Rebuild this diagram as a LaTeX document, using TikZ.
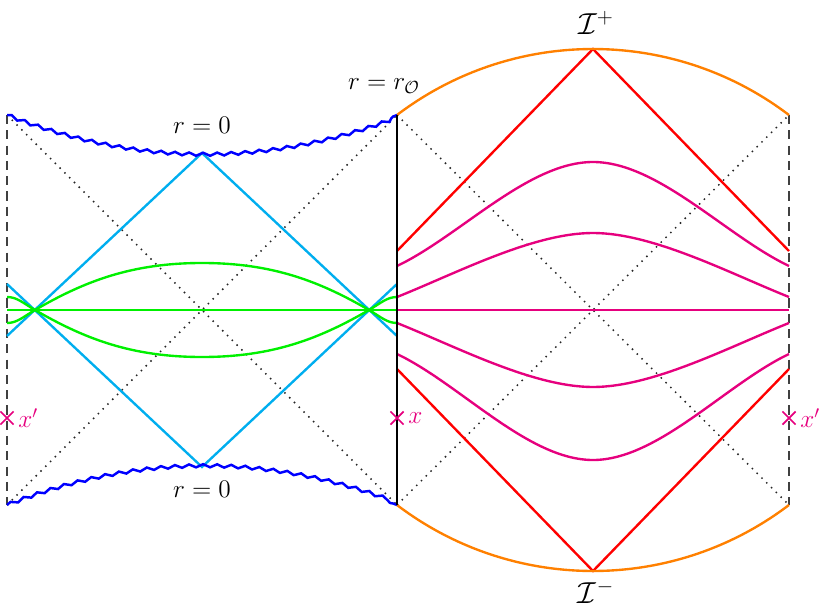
\documentclass[tikz,border=0pt]{standalone}
\usetikzlibrary{decorations.pathmorphing,shapes.misc}
\definecolor{cyanray}{RGB}{0,174,239}
\definecolor{pinkcurve}{RGB}{230,0,126}
\definecolor{orangearc}{RGB}{255,128,0}
\definecolor{dashgray}{RGB}{64,64,64}
\definecolor{greencurve}{RGB}{0,240,0}
\tikzset{
  lbl/.style={font=\Large},
  biglbl/.style={font=\LARGE},
  wavy/.style={blue, line width=1.4pt, decorate,
    decoration={snake, amplitude=0.9pt, segment length=8pt}},
  diag/.style={black!85, line width=0.85pt, dash pattern=on 0.85pt off 3pt},
  bdry/.style={dashgray, line width=1pt, dash pattern=on 5.2pt off 3.5pt},
  worldline/.style={black, line width=1.6pt},
  ray/.style={cyanray, line width=1.35pt},
  slice/.style={greencurve, line width=1.35pt},
  pslice/.style={pinkcurve, line width=1.35pt},
  nullray/.style={red, line width=1.35pt},
  scri/.style={orangearc, line width=1.35pt},
  xmark/.style={draw=pinkcurve, cross out, line width=1pt, minimum size=6.5pt, inner sep=0pt},
  xlbl/.style={lbl, text=pinkcurve, anchor=west, inner sep=2.5pt}
}
\begin{document}
\begin{tikzpicture}[x=0.02cm, y=-0.02cm]
\useasboundingbox (0,0) rectangle (832,612);
% corners
\coordinate (LT) at (7,115);   \coordinate (LB) at (7,505);
\coordinate (MT) at (397,115); \coordinate (MB) at (397,505);
\coordinate (RT) at (789,115); \coordinate (RB) at (789,505);
\coordinate (LM) at (7,310);   \coordinate (MM) at (397,310); \coordinate (RM) at (789,310);
\coordinate (Ltop) at (202,153); \coordinate (Lbot) at (202,467);
\coordinate (Splus) at (593,49); \coordinate (Sminus) at (593,571);

% dotted diagonals
\draw[diag] (LT) -- (MB);
\draw[diag] (LB) -- (MT);
\draw[diag] (MT) -- (RB);
\draw[diag] (MB) -- (RT);

% dashed boundaries
\draw[bdry] (LT) -- (LB);
\draw[bdry] (RT) -- (RB);

% cyan light rays
\draw[ray] (7,336) -- (Ltop) -- (397,336);
\draw[ray] (7,284) -- (Lbot) -- (397,284);

% green slices
\draw[slice] (LM) -- (MM);
\draw[slice] (7,323) .. controls (17,323) and (23,317) .. (35,310)
  .. controls (85,281) and (132,263) .. (202,263)
  .. controls (272,263) and (319,281) .. (369,310)
  .. controls (381,317) and (387,323) .. (397,323);
\draw[slice] (7,297) .. controls (17,297) and (23,303) .. (35,310)
  .. controls (85,339) and (132,357) .. (202,357)
  .. controls (272,357) and (319,339) .. (369,310)
  .. controls (381,303) and (387,297) .. (397,297);

% magenta slices
\draw[pslice] (MM) -- (RM);
\draw[pslice] (397,297) .. controls (457,273) and (533,233) .. (593,233)
  .. controls (653,233) and (729,273) .. (789,297);
\draw[pslice] (397,323) .. controls (457,347) and (533,387) .. (593,387)
  .. controls (653,387) and (729,347) .. (789,323);
\draw[pslice] (397,266) .. controls (460,236) and (528,162) .. (593,162)
  .. controls (658,162) and (726,236) .. (789,266);
\draw[pslice] (397,354) .. controls (460,384) and (528,460) .. (593,460)
  .. controls (658,460) and (726,384) .. (789,354);

% red null rays
\draw[nullray] (397,251) -- (Splus) -- (789,251);
\draw[nullray] (397,369) -- (Sminus) -- (789,369);

% scri arcs
\draw[scri] (MT) arc[start angle=-127.22, end angle=-52.78, radius=324];
\draw[scri] (MB) arc[start angle=127.22, end angle=52.78, radius=324];

% singularities
\draw[wavy] (LT) .. controls (137,165.7) and (267,165.7) .. (MT);
\draw[wavy] (LB) .. controls (137,454.3) and (267,454.3) .. (MB);

% observer worldline
\draw[worldline] (MT) -- (MB);

% marks
\node[xmark] (X1) at (7,418) {};
\node[xmark] (X2) at (397,418) {};
\node[xmark] (X3) at (789,418) {};
\node[xlbl] at (X1.east) {$x'$};
\node[xlbl] at (X2.east) {$x$};
\node[xlbl] at (X3.east) {$x'$};

% labels
\node[lbl] (rO) at (384,86) {$r = r_{\mathcal{O}}$};
\node[lbl] (r0t) at (202,125) {$r = 0$};
\node[lbl] (r0b) at (202,489) {$r = 0$};
\node[biglbl] (Ip) at (596,23) {$\mathcal{I}^+$};
\node[biglbl] (Im) at (596,592) {$\mathcal{I}^-$};
\end{tikzpicture}
\end{document}
